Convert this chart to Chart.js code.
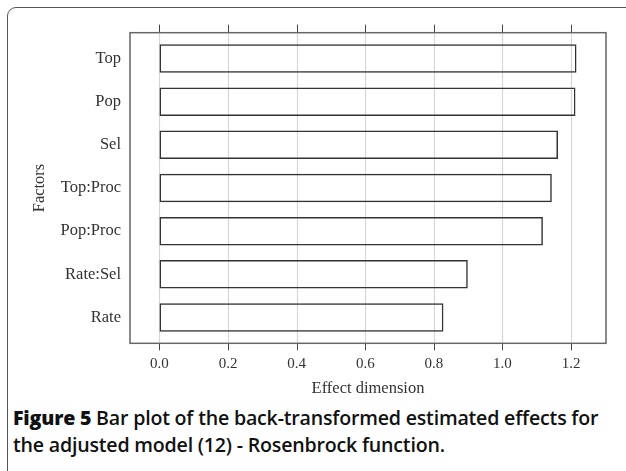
<!DOCTYPE html>
<html>
<head>
<meta charset="utf-8">
<script src="https://cdn.jsdelivr.net/npm/chart.js@4/dist/chart.umd.min.js"></script>
<style>
  html, body { margin: 0; padding: 0; background: #fff; }
  body { width: 626px; height: 471px; position: relative; overflow: hidden; }
  #frame { position: absolute; left: 7px; top: 7px; width: 660px; height: 500px;
           border: 1.5px solid #555; border-radius: 9px; }
  #chart { position: absolute; left: 0; top: 0; }
  #caption { position: absolute; left: 13px; top: 404px; width: 620px; white-space: nowrap;
             font-family: "Open Sans", sans-serif; font-size: 19.6px; line-height: 27px;
             font-weight: 600; color: #111; letter-spacing: -0.2px; }
  #caption b { font-weight: 800; }
</style>
</head>
<body>
<div id="frame"></div>
<canvas id="chart" width="626" height="400"></canvas>
<div id="caption"><b>Figure 5</b> Bar plot of the back-transformed estimated effects for<br>the adjusted model (12) - Rosenbrock function.</div>
<script>
const factors = ["Top", "Pop", "Sel", "Top:Proc", "Pop:Proc", "Rate:Sel", "Rate"];
const effects = [1.216, 1.213, 1.162, 1.144, 1.118, 0.899, 0.828];
const xTicks = [0, 0.2, 0.4, 0.6, 0.8, 1.0, 1.2];
const xMin = -0.086;
const xMax = 1.302;

const serif = "'Liberation Serif', 'Times New Roman', serif";

// box round the plot, light grid lines, tick marks on top and bottom
const boxPlugin = {
  id: "box",
  beforeDatasetsDraw(chart) {
    const { ctx, chartArea, scales } = chart;
    const xs = scales.x, ys = scales.y;
    const band = Math.abs(ys.getPixelForValue(1) - ys.getPixelForValue(0));
    const top = chartArea.top - 0.1 * band;
    const bottom = chartArea.bottom + 0.1 * band;
    ctx.save();
    ctx.strokeStyle = "#d6d6d6";
    ctx.lineWidth = 1.2;
    xTicks.forEach((v) => {
      const x = Math.round(xs.getPixelForValue(v)) + 0.5;
      ctx.beginPath();
      ctx.moveTo(x, top);
      ctx.lineTo(x, bottom);
      ctx.stroke();
    });
    ctx.strokeStyle = "#444";
    ctx.lineWidth = 1;
    xTicks.forEach((v) => {
      const x = Math.round(xs.getPixelForValue(v)) + 0.5;
      ctx.beginPath();
      ctx.moveTo(x, top - 8);
      ctx.lineTo(x, top);
      ctx.moveTo(x, bottom);
      ctx.lineTo(x, bottom + 7);
      ctx.stroke();
    });
    ctx.strokeStyle = "#666";
    ctx.lineWidth = 1.5;
    ctx.strokeRect(chartArea.left, top, chartArea.right - chartArea.left, bottom - top);
    ctx.restore();
  }
};

new Chart(document.getElementById("chart"), {
  type: "bar",
  data: {
    labels: factors,
    datasets: [{
      data: effects,
      backgroundColor: "rgba(0,0,0,0)",
      borderColor: "#333",
      borderWidth: 1.5,
      borderSkipped: false,
      barPercentage: 0.66,
      categoryPercentage: 1
    }]
  },
  options: {
    indexAxis: "y",
    responsive: false,
    animation: false,
    devicePixelRatio: 1,
    layout: { padding: { top: 37, right: 20, left: 0, bottom: 0 } },
    plugins: { legend: { display: false }, tooltip: { enabled: false } },
    scales: {
      x: {
        type: "linear",
        min: xMin,
        max: xMax,
        afterBuildTicks: (s) => { s.ticks = xTicks.map((v) => ({ value: v })); },
        afterFit: (s) => { s.height = 61; },
        grid: { display: false, drawTicks: false },
        border: { display: false },
        ticks: {
          color: "#333",
          padding: 16,
          font: { family: serif, size: 15 },
          callback: (v) => Number(v).toFixed(1)
        },
        title: {
          display: true,
          text: "Effect dimension",
          color: "#333",
          font: { family: serif, size: 16.5 },
          padding: { top: 0, bottom: 1 }
        }
      },
      y: {
        afterFit: (s) => { s.width = 130; },
        grid: { display: false, drawTicks: false },
        border: { display: false },
        ticks: {
          color: "#333",
          padding: 9,
          font: { family: serif, size: 16.5 }
        },
        title: {
          display: true,
          text: "Factors",
          color: "#333",
          font: { family: serif, size: 16.5 },
          padding: { top: 30, bottom: 0 }
        }
      }
    }
  },
  plugins: [boxPlugin]
});
</script>
</body>
</html>
